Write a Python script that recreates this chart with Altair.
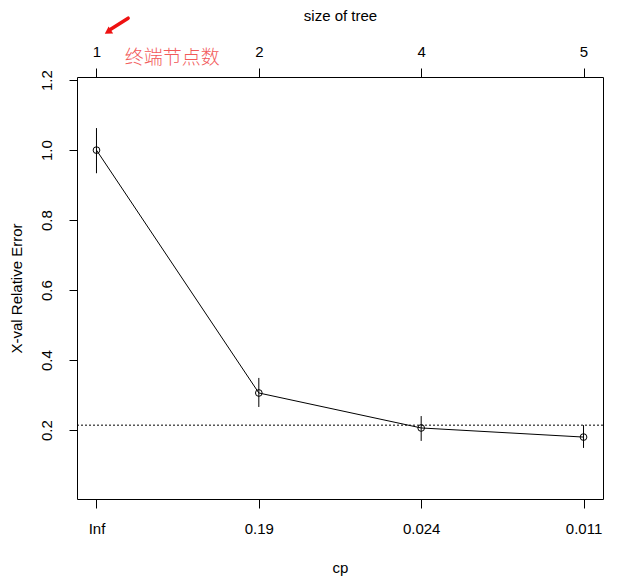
import json
import altair as alt
import pandas as pd

# ---- data (rpart plotcp) ----
size_of_tree = ["1", "2", "4", "5"]
cp_labels = ["Inf", "0.19", "0.024", "0.011"]
positions = [1, 2, 3, 4]
xerror = [1.0, 0.306, 0.206, 0.180]
xerr_hi = [1.063, 0.349, 0.240, 0.214]
xerr_lo = [0.934, 0.266, 0.169, 0.149]
threshold = 0.214
y_ticks = [0.2, 0.4, 0.6, 0.8, 1.0, 1.2]

annot_text = "终端节点数"

df = pd.DataFrame({"pos": positions, "xerror": xerror, "hi": xerr_hi, "lo": xerr_lo})

FONT = "Liberation Sans"
FS = 15

xscale = alt.Scale(domain=[0.88, 4.12], nice=False, zero=False)
yscale = alt.Scale(domain=[0.003, 1.209], nice=False, zero=False)

common_axis = dict(
    grid=False, domain=False, tickColor="black", tickWidth=1,
    labelFont=FONT, labelFontSize=FS, labelColor="black",
    titleFont=FONT, titleFontSize=FS, titleFontWeight="normal", titleColor="black",
)

bottom_axis = alt.Axis(
    orient="bottom", values=positions,
    labelExpr=f"{json.dumps(cp_labels)}[datum.value - 1]",
    title="cp", tickSize=9, labelPadding=13, titlePadding=24, **common_axis,
)
top_axis = alt.Axis(
    orient="top", values=positions,
    labelExpr=f"{json.dumps(size_of_tree)}[datum.value - 1]",
    title="size of tree", tickSize=9, labelPadding=9, titlePadding=21, **common_axis,
)
y_axis = alt.Axis(
    orient="left", values=y_ticks, format=".1f", title="X-val Relative Error",
    tickSize=8, labelPadding=15, labelAngle=270, labelAlign="center",
    labelBaseline="bottom", titlePadding=15, **common_axis,
)

base = alt.Chart(df)

line = base.mark_line(color="black", strokeWidth=1).encode(
    x=alt.X("pos:Q", scale=xscale, axis=top_axis),
    y=alt.Y("xerror:Q", scale=yscale, axis=y_axis),
)
points = base.mark_point(shape="circle", size=45, filled=False, color="black", strokeWidth=1, opacity=1).encode(
    x=alt.X("pos:Q", scale=xscale, axis=bottom_axis),
    y=alt.Y("xerror:Q", scale=yscale, axis=y_axis),
)
errs = base.mark_rule(color="black", strokeWidth=1).encode(
    x=alt.X("pos:Q", scale=xscale, axis=None),
    y=alt.Y("lo:Q", scale=yscale, axis=y_axis),
    y2="hi:Q",
)
hline = alt.Chart(pd.DataFrame({"t": [threshold]})).mark_rule(
    color="black", strokeWidth=1, strokeDash=[2, 2]
).encode(y=alt.Y("t:Q", scale=yscale, axis=y_axis))

# annotation (outside plot area)
ann = alt.Chart(pd.DataFrame({"x": [1.466], "y": [1.264], "t": [annot_text]})).mark_text(
    font="Noto Sans CJK SC", fontSize=19, fontWeight=300, color="#f25a5a", clip=False
).encode(
    x=alt.X("x:Q", scale=xscale, axis=None),
    y=alt.Y("y:Q", scale=yscale, axis=y_axis),
    text="t:N",
)
arrow_line = alt.Chart(pd.DataFrame({"x": [1.195], "y": [1.377], "x2": [1.085], "y2": [1.345]})).mark_rule(
    color="#ee1111", strokeWidth=3.5, clip=False, strokeCap="round"
).encode(
    x=alt.X("x:Q", scale=xscale, axis=None), x2="x2:Q",
    y=alt.Y("y:Q", scale=yscale, axis=y_axis), y2="y2:Q",
)
arrow_head = alt.Chart(pd.DataFrame({"x": [1.07], "y": [1.338]})).mark_point(
    shape="triangle-up", filled=True, color="#ee1111", size=70, angle=237, opacity=1, clip=False
).encode(
    x=alt.X("x:Q", scale=xscale, axis=None),
    y=alt.Y("y:Q", scale=yscale, axis=y_axis),
)

chart = alt.layer(hline, errs, line, points, ann, arrow_line, arrow_head).resolve_axis(
    x="independent"
).properties(
    width=526, height=422,
    autosize=alt.AutoSizeParams(type="none"),
    padding={"left": 69, "top": 69, "right": 14, "bottom": 80},
    background="white",
).configure_view(stroke="black", strokeWidth=1)

chart.save("out.html", embed_options={"renderer": "svg", "actions": False})
